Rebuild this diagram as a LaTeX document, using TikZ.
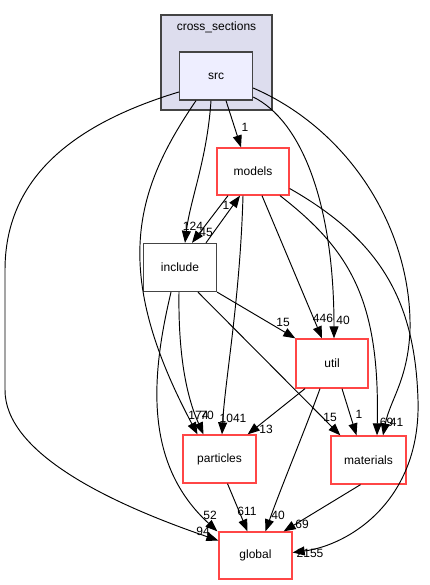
\documentclass[tikz,border=0pt]{standalone}
\usepackage{fontspec}
\setmainfont{Liberation Sans}
\usetikzlibrary{arrows.meta,calc}
\definecolor{clfill}{HTML}{DDDDEE}
\definecolor{srcfill}{HTML}{EEEEFF}
\definecolor{bord}{HTML}{444444}
\definecolor{redb}{HTML}{FF4646}
\begin{document}
\begin{tikzpicture}[x=1pt,y=-1pt,
  dirbox/.style={draw=#1, line width=1.3pt, fill=white, minimum width=73pt, minimum height=48pt, inner sep=0pt, font=\fontsize{12}{13}\selectfont},
  edge/.style={line width=0.95pt, -{Triangle[length=12pt,width=9pt]}},
  lab/.style={font=\fontsize{12}{13}\selectfont, inner sep=0pt}]
\useasboundingbox (0,0) rectangle (429,585);
% cluster
\node[draw=bord, fill=clfill, line width=1.3pt, minimum width=111pt, minimum height=95pt, inner sep=0pt] (cl) at (216.5,62.5) {};
\node[lab] (cltext) at (216.5,27) {cross\_sections};
\node[dirbox=bord, fill=srcfill] (src) at (216,76) {src};
\node[dirbox=redb, minimum width=72pt, minimum height=47pt] (models) at (253,171.5) {models};
\node[dirbox=bord] (include) at (180,267.5) {include};
\node[dirbox=redb, minimum width=72pt, minimum height=49pt] (util) at (332,363.5) {util};
\node[dirbox=redb] (particles) at (219.5,459) {particles};
\node[dirbox=redb, minimum width=75pt] (materials) at (368.5,460) {materials};
\node[dirbox=redb, minimum height=47pt] (global) at (255.5,555.5) {global};

% src edges
\draw[edge] ($(src.south)+(10,0)$) -- ($(models.north)+(-12,0)$);
\draw[edge] ($(src.south)+(-5,0)$) .. controls (207,160) and (190,200) .. ($(include.north)+(5,0)$);
\draw[edge] ($(src.south)+(-20,0)$) .. controls (135,190) and (110,270) .. ($(particles.north)+(-22,0)$);
\draw[edge] ($(src.west)+(0,16)$) .. controls (70,125) and (5,180) .. (5,270) -- (5,390) .. controls (5,450) and (100,500) .. ($(global.west)+(0,-15)$);
\draw[edge] ($(src.east)+(0,21)$) .. controls (300,120) and (334,200) .. ($(util.north)+(2,0)$);
\draw[edge] ($(src.east)+(0,12)$) .. controls (350,130) and (412,230) .. (410,330) .. controls (408,380) and (390,400) .. ($(materials.north)+(14.5,0)$);
% models edges
\draw[edge] ($(models.south)+(-25,0)$) -- ($(include.north)+(12,0)$);
\draw[edge] ($(include.north)+(26,0)$) -- ($(models.south)+(-13,0)$);
\draw[edge] ($(models.south)+(-10,0)$) .. controls (240,300) and (225,380) .. ($(particles.north)+(2.5,0)$);
\draw[edge] ($(models.south)+(9,0)$) -- ($(util.north)+(-10,0)$);
\draw[edge] ($(models.south)+(27,0)$) .. controls (350,250) and (380,300) .. ($(materials.north)+(8.5,0)$);
\draw[edge] ($(models.east)+(0,17)$) .. controls (380,240) and (415,300) .. (418,400) .. controls (421,500) and (350,545) .. ($(global.east)+(0,-3)$);
% include edges
\draw[edge] (include.south east) -- (util.north west);
\draw[edge] ($(include.south)+(18,0)$) -- ($(materials.north west)+(10,0)$);
\draw[edge] ($(include.south)+(-1,0)$) .. controls (178,360) and (188,400) .. ($(particles.north)+(-16,0)$);
\draw[edge] ($(include.south)+(-9,0)$) .. controls (150,380) and (145,465) .. ($(global.north west)+(-1,0)$);
% util edges
\draw[edge] ($(util.south)+(-27,0)$) -- ($(particles.north east)+(-9,0)$);
\draw[edge] ($(util.south)+(10,0)$) -- ($(materials.north)+(-12,0)$);
\draw[edge] ($(util.south)+(-12,0)$) .. controls (305,430) and (280,490) .. ($(global.north)+(10,0)$);
% particles, materials
\draw[edge] ($(particles.south)+(8,0)$) -- ($(global.north)+(-8,0)$);
\draw[edge] ($(materials.south)+(-8,0)$) -- ($(global.north east)+(-9,0)$);

% labels
\node[lab] (l1) at (245,127) {1};
\node[lab] (l124) at (193,226) {124};
\node[lab] (l45) at (206,232) {45};
\node[lab] (l1b) at (226,205) {1};
\node[lab] (l15a) at (283,322) {15};
\node[lab] (l446) at (323,318) {446};
\node[lab] (l40a) at (343,320) {40};
\node[lab] (l174) at (198.5,415) {174};
\node[lab] (l70) at (207,415) {70};
\node[lab] (l1041) at (233,418) {1041};
\node[lab] (l13) at (266,429) {13};
\node[lab] (l15b) at (330,417) {15};
\node[lab] (l1c) at (359,414) {1};
\node[lab] (l69a) at (386.5,422) {69};
\node[lab] (l41) at (396.5,422) {41};
\node[lab] (l52) at (210,515) {52};
\node[lab] (l94) at (203,531) {94};
\node[lab] (l611) at (247,511) {611};
\node[lab] (l40b) at (278,515) {40};
\node[lab] (l69b) at (302,524) {69};
\node[lab] (l2155) at (310,553) {2155};
\end{tikzpicture}
\end{document}
